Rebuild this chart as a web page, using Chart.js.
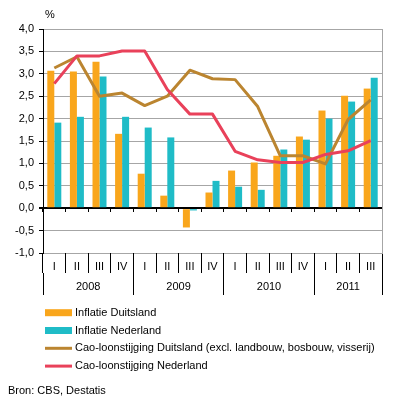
<!DOCTYPE html>
<html><head><meta charset="utf-8">
<script src="https://cdn.jsdelivr.net/npm/chart.js@4"></script>
<style>html,body{margin:0;padding:0;background:#fff;overflow:hidden}#wrap{width:396px;height:403px;position:relative}</style>
</head><body><div id="wrap"><canvas id="c" width="396" height="403"></canvas></div>
<script>
const quarters = ['I','II','III','IV','I','II','III','IV','I','II','III','IV','I','II','III'];
const years = ['2008','2009','2010','2011'];
const quartersPerYear = [4,4,4,3];
const inflatieDuitsland = [3.07,3.05,3.27,1.66,0.77,0.28,-0.43,0.35,0.84,1.02,1.17,1.60,2.18,2.51,2.67];
const inflatieNederland = [1.91,2.04,2.94,2.04,1.80,1.58,-0.05,0.61,0.48,0.41,1.31,1.53,2.00,2.38,2.91];
const caoDuitsland = [3.13,3.38,2.50,2.57,2.29,2.50,3.08,2.89,2.87,2.27,1.17,1.17,0.99,1.98,2.42];
const caoNederland = [2.78,3.40,3.40,3.51,3.51,2.65,2.10,2.10,1.27,1.08,1.02,1.02,1.20,1.28,1.51];
const yTicks = [-1,-0.5,0,0.5,1,1.5,2,2.5,3,3.5,4];
const unitLabel = '%';
const sourceText = 'Bron: CBS, Destatis';

const FONT = '"Liberation Sans", Arial, sans-serif';
Chart.defaults.font.family = FONT;
Chart.defaults.font.size = 11;
Chart.defaults.color = '#000';

// year boundaries & midpoints (in category index units)
const yearBounds = [-0.5];
const yearMids = [];
quartersPerYear.forEach(n => {
  const s = yearBounds[yearBounds.length - 1];
  yearMids.push(s + n / 2);
  yearBounds.push(s + n);
});
const yearTickVals = yearBounds.concat(yearMids).sort((a, b) => a - b);
const fmt = v => v.toFixed(1).replace('.', ',');

const COLORS = { orange: '#f9a61c', teal: '#1fbcc7', brown: '#bb8530', red: '#e9415a', grid: '#a6a6a6' };

const extras = {
  id: 'extras',
  afterDraw(chart) {
    const ctx = chart.ctx;
    const ca = chart.chartArea;
    ctx.save();
    ctx.font = '11px ' + FONT;
    ctx.fillStyle = '#000';
    ctx.textBaseline = 'middle';
    ctx.textAlign = 'left';
    // unit label
    ctx.fillText(unitLabel, ca.left + 2, ca.top - 14);
    // legend
    const startY = chart.scales.xy.bottom + 17.7;
    const step = 17.8;
    const sx = ca.left + 2, sw = 27;
    chart.data.datasets.forEach((ds, i) => {
      const y = startY + i * step;
      if (ds.type === 'line') {
        ctx.strokeStyle = ds.borderColor;
        ctx.lineWidth = 3;
        ctx.beginPath();
        ctx.moveTo(sx, y);
        ctx.lineTo(sx + sw, y);
        ctx.stroke();
      } else {
        ctx.fillStyle = ds.backgroundColor;
        ctx.fillRect(sx, y - 3.5, sw, 7);
      }
      ctx.fillStyle = '#000';
      ctx.fillText(ds.label, sx + sw + 3, y);
    });
    ctx.fillText(sourceText, 8, startY + 4 * step + 7);
    ctx.restore();
  }
};

new Chart(document.getElementById('c'), {
  type: 'bar',
  data: {
    labels: quarters,
    datasets: [
      { type: 'bar', label: 'Inflatie Duitsland', data: inflatieDuitsland, backgroundColor: COLORS.orange, order: 2, categoryPercentage: 0.62, barPercentage: 1 },
      { type: 'bar', label: 'Inflatie Nederland', data: inflatieNederland, backgroundColor: COLORS.teal, order: 2, categoryPercentage: 0.62, barPercentage: 1 },
      { type: 'line', label: 'Cao-loonstijging Duitsland (excl. landbouw, bosbouw, visserij)', data: caoDuitsland, borderColor: COLORS.brown, backgroundColor: COLORS.brown, borderWidth: 3, pointRadius: 0, tension: 0, order: 1, borderJoinStyle: 'round' },
      { type: 'line', label: 'Cao-loonstijging Nederland', data: caoNederland, borderColor: COLORS.red, backgroundColor: COLORS.red, borderWidth: 3, pointRadius: 0, tension: 0, order: 0, borderJoinStyle: 'round' }
    ]
  },
  options: {
    responsive: false,
    animation: false,
    events: [],
    layout: { padding: { left: 0, right: 14, top: 29, bottom: 108 } },
    plugins: { legend: { display: false }, tooltip: { enabled: false }, title: { display: false } },
    scales: {
      y: {
        position: 'left',
        min: -1, max: 4,
        afterBuildTicks: s => { s.ticks = yTicks.map(v => ({ value: v })); },
        afterFit: s => { s.width = 43; },
        ticks: { callback: v => fmt(v), padding: 5, font: { size: 11 } },
        grid: {
          color: c => (c.tick && c.tick.value === 0) ? '#000' : COLORS.grid,
          lineWidth: c => (c.tick && c.tick.value === 0) ? 2 : 1,
          tickColor: '#000', tickLength: 4
        },
        border: { color: '#000', width: 1 }
      },
      yr: {
        position: 'right',
        min: -1, max: 4,
        afterFit: s => { s.width = 0; },
        ticks: { display: false },
        grid: { drawOnChartArea: false, drawTicks: false },
        border: { color: COLORS.grid, width: 1 }
      },
      x: {
        type: 'category',
        position: 'bottom',
        weight: 0,
        offset: true,
        afterFit: s => { s.height = 20; },
        ticks: { autoSkip: false, maxRotation: 0, padding: -13, font: { size: 11 } },
        grid: { offset: true, drawOnChartArea: false, tickLength: 20, color: '#000', tickColor: '#000' },
        border: { display: false }
      },
      xz: {
        type: 'category',
        position: { y: 0 },
        offset: true,
        ticks: { display: false },
        grid: { offset: true, drawOnChartArea: false, tickLength: 4, tickColor: '#000', color: '#000' },
        border: { display: false }
      },
      xy: {
        type: 'linear',
        position: 'bottom',
        weight: 1,
        offset: false,
        min: yearBounds[0], max: yearBounds[yearBounds.length - 1],
        afterBuildTicks: s => { s.ticks = yearTickVals.map(v => ({ value: v })); },
        afterFit: s => { s.height = 22; },
        ticks: {
          autoSkip: false, maxRotation: 0, padding: -15, font: { size: 11 },
          callback: v => { const i = yearMids.indexOf(v); return i >= 0 ? years[i] : ''; }
        },
        grid: {
          offset: false,
          drawOnChartArea: false, tickLength: 22,
          color: c => (c.tick && yearBounds.includes(c.tick.value)) ? '#000' : 'rgba(0,0,0,0)',
          tickColor: c => (c.tick && yearBounds.includes(c.tick.value)) ? '#000' : 'rgba(0,0,0,0)'
        },
        border: { display: false }
      }
    }
  },
  plugins: [extras]
});
</script></body></html>
